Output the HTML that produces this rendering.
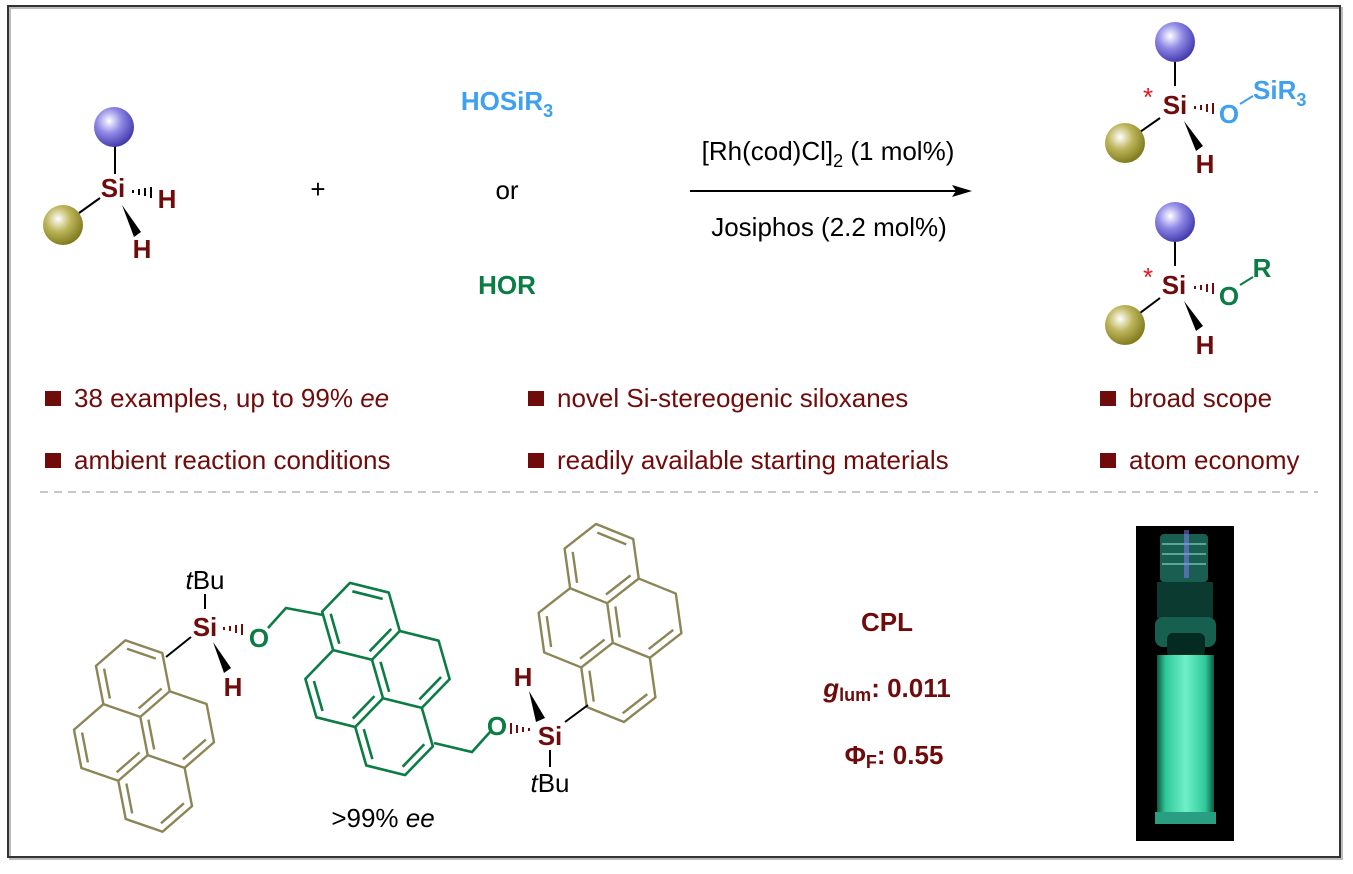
<!DOCTYPE html>
<html><head><meta charset="utf-8"><style>
html,body{margin:0;padding:0;background:#fff;}
svg{display:block;font-family:"Liberation Sans",Arial,sans-serif;}
.mr{fill:#700b0b;}
.b{font-weight:bold;}
</style></head><body>
<svg width="1353" height="874" viewBox="0 0 1353 874" xmlns="http://www.w3.org/2000/svg">
<defs>
<radialGradient id="gb" cx="0.38" cy="0.35" r="0.7">
<stop offset="0" stop-color="#ffffff"/><stop offset="0.45" stop-color="#8f88e6"/><stop offset="1" stop-color="#3c33a8"/></radialGradient>
<radialGradient id="go" cx="0.38" cy="0.35" r="0.7">
<stop offset="0" stop-color="#ffffff"/><stop offset="0.45" stop-color="#bdb55a"/><stop offset="1" stop-color="#7b7518"/></radialGradient>
<linearGradient id="vial" x1="0" y1="0" x2="1" y2="0">
<stop offset="0" stop-color="#0c5a44"/><stop offset="0.15" stop-color="#2fc89a"/><stop offset="0.5" stop-color="#6ff0c8"/><stop offset="0.85" stop-color="#2fc89a"/><stop offset="1" stop-color="#0c5a44"/></linearGradient>
<g id="pyr">
<path vector-effect="non-scaling-stroke" fill="none" stroke-linejoin="round" d="M-1.299,-1.75 L-0.433,-1.25 L-0.433,-0.25 L-1.299,0.25 L-2.165,-0.25 L-2.165,-1.25 Z M0.433,-1.75 L1.299,-1.25 L1.299,-0.25 L0.433,0.25 L-0.433,-0.25 L-0.433,-1.25 Z M-0.433,-0.25 L0.433,0.25 L0.433,1.25 L-0.433,1.75 L-1.299,1.25 L-1.299,0.25 Z M1.299,-0.25 L2.165,0.25 L2.165,1.25 L1.299,1.75 L0.433,1.25 L0.433,0.25 Z
M-1.975,-1.14 L-1.299,-1.53 M-0.623,-1.14 L-0.623,-0.36 M-1.299,0.03 L-1.975,-0.36
M1.109,-1.14 L1.109,-0.36 M0.433,0.03 L-0.243,-0.36
M-0.433,1.53 L-1.109,1.14 M0.243,0.36 L0.243,1.14
M1.975,0.36 L1.975,1.14 M1.299,1.53 L0.623,1.14"/>
</g>
</defs>

<rect x="10" y="8" width="1332" height="851" fill="none" stroke="#bbb" stroke-width="2"/>
<rect x="8" y="6" width="1332" height="851" fill="none" stroke="#333" stroke-width="2"/>
<line x1="40" y1="492" x2="1318" y2="492" stroke="#b5b5b5" stroke-width="1.6" stroke-dasharray="8,6"/>

<!-- starting silane -->
<line x1="115" y1="146" x2="115" y2="174" stroke="#000" stroke-width="2"/>
<line x1="100" y1="198" x2="79" y2="213" stroke="#000" stroke-width="2"/>
<circle cx="114" cy="127" r="20" fill="url(#gb)"/>
<circle cx="63" cy="225" r="20" fill="url(#go)"/>
<text x="113" y="197" class="mr b" font-size="26" text-anchor="middle">Si</text>
<g stroke="#000" stroke-width="2"><line x1="133" y1="190" x2="133" y2="193"/><line x1="139" y1="189" x2="139" y2="195"/><line x1="145" y1="188" x2="145" y2="196"/><line x1="151" y1="187" x2="151" y2="198"/></g>
<text x="167" y="208" class="mr b" font-size="26" text-anchor="middle">H</text>
<polygon points="122,205 134,237 141,232" fill="#000"/>
<text x="142" y="258" class="mr b" font-size="26" text-anchor="middle">H</text>

<text x="318" y="198" font-size="26" text-anchor="middle">+</text>
<text x="507" y="110" font-size="26" text-anchor="middle" class="b" fill="#3ea0ef">HOSiR<tspan font-size="18" dy="7">3</tspan></text>
<text x="507" y="199" font-size="26" text-anchor="middle">or</text>
<text x="507" y="294" font-size="26" text-anchor="middle" class="b" fill="#0b7c43">HOR</text>

<line x1="690" y1="191" x2="958" y2="191" stroke="#000" stroke-width="2"/>
<polygon points="972,191 952,185 956,191 952,197" fill="#000"/>
<text x="828" y="160" font-size="26" text-anchor="middle">[Rh(cod)Cl]<tspan font-size="18" dy="7">2</tspan><tspan dy="-7"> (1 mol%)</tspan></text>
<text x="829" y="236" font-size="26" text-anchor="middle">Josiphos (2.2 mol%)</text>

<!-- product 1 -->
<line x1="1175" y1="62" x2="1175" y2="86" stroke="#000" stroke-width="2"/>
<line x1="1160" y1="118" x2="1140" y2="132" stroke="#000" stroke-width="2"/>
<circle cx="1175" cy="42" r="20" fill="url(#gb)"/>
<circle cx="1125" cy="143" r="20" fill="url(#go)"/>
<text x="1148" y="106" font-size="26" fill="#e8141e" text-anchor="middle">*</text>
<text x="1175" y="114" class="mr b" font-size="26" text-anchor="middle">Si</text>
<g stroke="#700b0b" stroke-width="2"><line x1="1195" y1="106" x2="1195" y2="109"/><line x1="1201" y1="105" x2="1201" y2="110"/><line x1="1207" y1="104" x2="1207" y2="112"/><line x1="1213" y1="103" x2="1213" y2="114"/></g>
<text x="1229" y="123" font-size="26" class="b" fill="#3ea0ef" text-anchor="middle">O</text>
<line x1="1240" y1="104" x2="1253" y2="96" stroke="#3ea0ef" stroke-width="2"/>
<text x="1253" y="99" font-size="26" class="b" fill="#3ea0ef">SiR<tspan font-size="18" dy="7">3</tspan></text>
<polygon points="1184,121 1196,151 1203,146" fill="#000"/>
<text x="1205" y="173" class="mr b" font-size="26" text-anchor="middle">H</text>

<!-- product 2 -->
<line x1="1175" y1="242" x2="1175" y2="266" stroke="#000" stroke-width="2"/>
<line x1="1160" y1="298" x2="1140" y2="313" stroke="#000" stroke-width="2"/>
<circle cx="1175" cy="222" r="20" fill="url(#gb)"/>
<circle cx="1125" cy="325" r="20" fill="url(#go)"/>
<text x="1148" y="286" font-size="26" fill="#e8141e" text-anchor="middle">*</text>
<text x="1174" y="294" class="mr b" font-size="26" text-anchor="middle">Si</text>
<g stroke="#700b0b" stroke-width="2"><line x1="1195" y1="286" x2="1195" y2="289"/><line x1="1201" y1="285" x2="1201" y2="290"/><line x1="1207" y1="284" x2="1207" y2="292"/><line x1="1213" y1="283" x2="1213" y2="294"/></g>
<text x="1229" y="305" font-size="26" class="b" fill="#0b7c43" text-anchor="middle">O</text>
<line x1="1240" y1="285" x2="1253" y2="277" stroke="#0b7c43" stroke-width="2"/>
<text x="1262" y="277" font-size="26" class="b" fill="#0b7c43" text-anchor="middle">R</text>
<polygon points="1184,301 1196,331 1203,326" fill="#000"/>
<text x="1205" y="354" class="mr b" font-size="26" text-anchor="middle">H</text>

<g class="mr" font-size="26">
<rect x="45" y="391" width="16" height="15"/><text x="74" y="407">38 examples, up to 99% <tspan font-style="italic">ee</tspan></text>
<rect x="45" y="453" width="16" height="15"/><text x="74" y="469">ambient reaction conditions</text>
<rect x="528" y="391" width="16" height="15"/><text x="557" y="407">novel Si-stereogenic siloxanes</text>
<rect x="528" y="453" width="16" height="15"/><text x="557" y="469">readily available starting materials</text>
<rect x="1100" y="391" width="16" height="15"/><text x="1129" y="407">broad scope</text>
<rect x="1100" y="453" width="16" height="15"/><text x="1129" y="469">atom economy</text>
</g>

<g stroke="#8c8556" stroke-width="2.4">
<use href="#pyr" transform="translate(144,736) rotate(49) scale(39)"/>
<use href="#pyr" transform="translate(610,623) rotate(52) scale(40)"/>
</g>
<g stroke="#0b7c43" stroke-width="2.6">
<use href="#pyr" transform="translate(377.5,679) rotate(44) scale(40)"/>
<polyline points="323,615 286,608 268,628" fill="none"/>
<polyline points="434,743 472,752 490,732" fill="none"/>
</g>
<line x1="166" y1="657" x2="191" y2="637" stroke="#000" stroke-width="2"/>
<line x1="588" y1="705" x2="565" y2="722" stroke="#000" stroke-width="2"/>
<text x="205" y="589" font-size="26" text-anchor="middle"><tspan font-style="italic">t</tspan>Bu</text>
<line x1="205" y1="594" x2="205" y2="609" stroke="#000" stroke-width="2"/>
<text x="205" y="636" class="mr b" font-size="26" text-anchor="middle">Si</text>
<g stroke="#700b0b" stroke-width="2"><line x1="224" y1="627" x2="224" y2="630"/><line x1="230" y1="626" x2="230" y2="631"/><line x1="236" y1="625" x2="236" y2="633"/><line x1="242" y1="624" x2="242" y2="635"/></g>
<text x="259" y="647" font-size="26" class="b" fill="#0b7c43" text-anchor="middle">O</text>
<polygon points="213,642 224,673 231,668" fill="#000"/>
<text x="233" y="696" class="mr b" font-size="26" text-anchor="middle">H</text>
<text x="523" y="686" class="mr b" font-size="26" text-anchor="middle">H</text>
<polygon points="529,691 536,722 545,718" fill="#000"/>
<text x="497" y="735" font-size="26" class="b" fill="#0b7c43" text-anchor="middle">O</text>
<g stroke="#700b0b" stroke-width="2"><line x1="511" y1="723" x2="511" y2="734"/><line x1="517" y1="725" x2="517" y2="733"/><line x1="523" y1="727" x2="523" y2="732"/><line x1="529" y1="728" x2="529" y2="731"/></g>
<text x="550" y="745" class="mr b" font-size="26" text-anchor="middle">Si</text>
<line x1="550" y1="750" x2="550" y2="767" stroke="#000" stroke-width="2"/>
<text x="550" y="792" font-size="26" text-anchor="middle"><tspan font-style="italic">t</tspan>Bu</text>
<text x="383" y="827" font-size="26" text-anchor="middle">&gt;99% <tspan font-style="italic">ee</tspan></text>

<text x="887" y="631" class="mr b" font-size="26" text-anchor="middle">CPL</text>
<text x="887" y="697" class="mr b" font-size="26" text-anchor="middle"><tspan font-style="italic">g</tspan><tspan font-size="18" dy="4">lum</tspan><tspan dy="-4">: 0.011</tspan></text>
<text x="894" y="764" class="mr b" font-size="26" text-anchor="middle">Φ<tspan font-size="18" dy="4">F</tspan><tspan dy="-4">: 0.55</tspan></text>

<rect x="1136" y="526" width="98" height="315" fill="#000"/>
<rect x="1160" y="534" width="48" height="48" rx="4" fill="#1f6e60" opacity="0.85"/>
<g stroke="#8fe8d8" stroke-width="1.5" opacity="0.7"><line x1="1162" y1="544" x2="1206" y2="544"/><line x1="1162" y1="554" x2="1206" y2="554"/><line x1="1162" y1="564" x2="1206" y2="564"/></g>
<rect x="1184" y="530" width="5" height="48" fill="#8a80ff" opacity="0.5"/>
<rect x="1157" y="582" width="56" height="36" fill="#0a3a30"/>
<rect x="1155" y="617" width="61" height="30" rx="8" fill="#17604f"/>
<rect x="1167" y="633" width="38" height="24" rx="6" fill="#052a22"/>
<rect x="1157" y="655" width="57" height="160" fill="url(#vial)"/>
<rect x="1155" y="812" width="61" height="12" fill="#2a9e80"/>
</svg>
</body></html>
